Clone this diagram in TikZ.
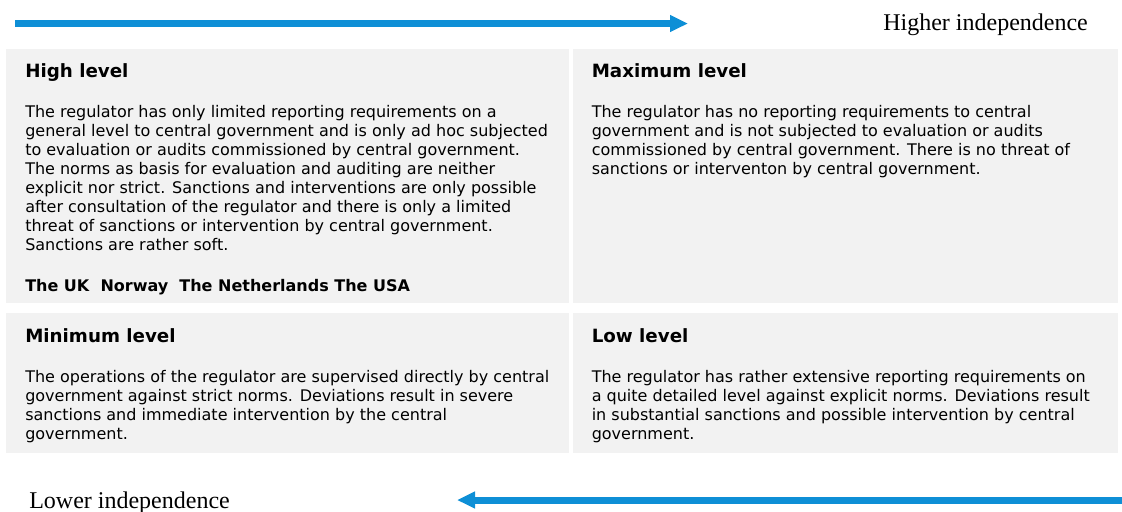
\documentclass[tikz,border=0pt]{standalone}
\usepackage{fontspec}
\setmainfont{Liberation Serif}
\setsansfont{DejaVu Sans}
\usetikzlibrary{arrows.meta,fit}
\definecolor{arrowblue}{RGB}{14,143,214}
\definecolor{boxgray}{RGB}{242,242,242}
\begin{document}
\begin{tikzpicture}[x=0.75pt,y=-0.75pt,
  box/.style={fill=boxgray, inner sep=0pt, draw=none},
  boxtitle/.style={anchor=base west, inner sep=0pt, font=\sffamily\bfseries\fontsize{13.7}{16}\selectfont},
  boxbody/.style={anchor=base west, inner sep=0pt, align=left, font=\sffamily\fontsize{12}{14.25}\selectfont},
  countries/.style={anchor=base west, inner sep=0pt, font=\sffamily\bfseries\fontsize{12}{14.25}\selectfont},
  sidelabel/.style={anchor=base west, inner sep=0pt, font=\rmfamily\fontsize{18}{20}\selectfont},
  arrowline/.style={draw=arrowblue, line width=5.25pt, -{Triangle[length=13.5pt,width=12pt]}}]
\useasboundingbox (0,0) rectangle (1122,511);

% boxes
\node[box, fit={(6,49) (569,303)}] (hl) {};
\node[box, fit={(573,49) (1118,303)}] (mx) {};
\node[box, fit={(6,313) (569,453)}] (mn) {};
\node[box, fit={(573,313) (1118,453)}] (lw) {};

% titles
\node[boxtitle] (hlt) at (25,77) {High level};
\node[boxtitle] (mxt) at (591.5,77) {Maximum level};
\node[boxtitle] (mnt) at (25,342) {Minimum level};
\node[boxtitle] (lwt) at (591.5,342) {Low level};

% bodies (anchored at the baseline of their last line)
\node[boxbody] (hlb) at (25,250.5) {The regulator has only limited reporting requirements on a\\
general level to central government and is only ad hoc subjected\\
to evaluation or audits commissioned by central government.\\
The norms as basis for evaluation and auditing are neither\\
explicit nor strict. Sanctions and interventions are only possible\\
after consultation of the regulator and there is only a limited\\
threat of sanctions or intervention by central government.\\
Sanctions are rather soft.};
\node[countries] (hlc) at (25,291) {The UK\ \ Norway\ \ The Netherlands The USA};

\node[boxbody] (mxb) at (591.5,174) {The regulator has no reporting requirements to central\\
government and is not subjected to evaluation or audits\\
commissioned by central government. There is no threat of\\
sanctions or interventon by central government.};

\node[boxbody] (mnb) at (25,439.5) {The operations of the regulator are supervised directly by central\\
government against strict norms. Deviations result in severe\\
sanctions and immediate intervention by the central\\
government.};

\node[boxbody] (lwb) at (591.5,439.5) {The regulator has rather extensive reporting requirements on\\
a quite detailed level against explicit norms. Deviations result\\
in substantial sanctions and possible intervention by central\\
government.};

% side labels
\node[sidelabel] (hi) at (883,30) {Higher independence};
\node[sidelabel] (lo) at (29,508) {Lower independence};

% arrows
\coordinate (a1s) at (15,23.5);
\coordinate (a1e) at (688,23.5);
\coordinate (a2s) at (1122,500);
\coordinate (a2e) at (457,500);
\draw[arrowline] (a1s) -- (a1e);
\draw[arrowline] (a2s) -- (a2e);
\end{tikzpicture}
\end{document}
